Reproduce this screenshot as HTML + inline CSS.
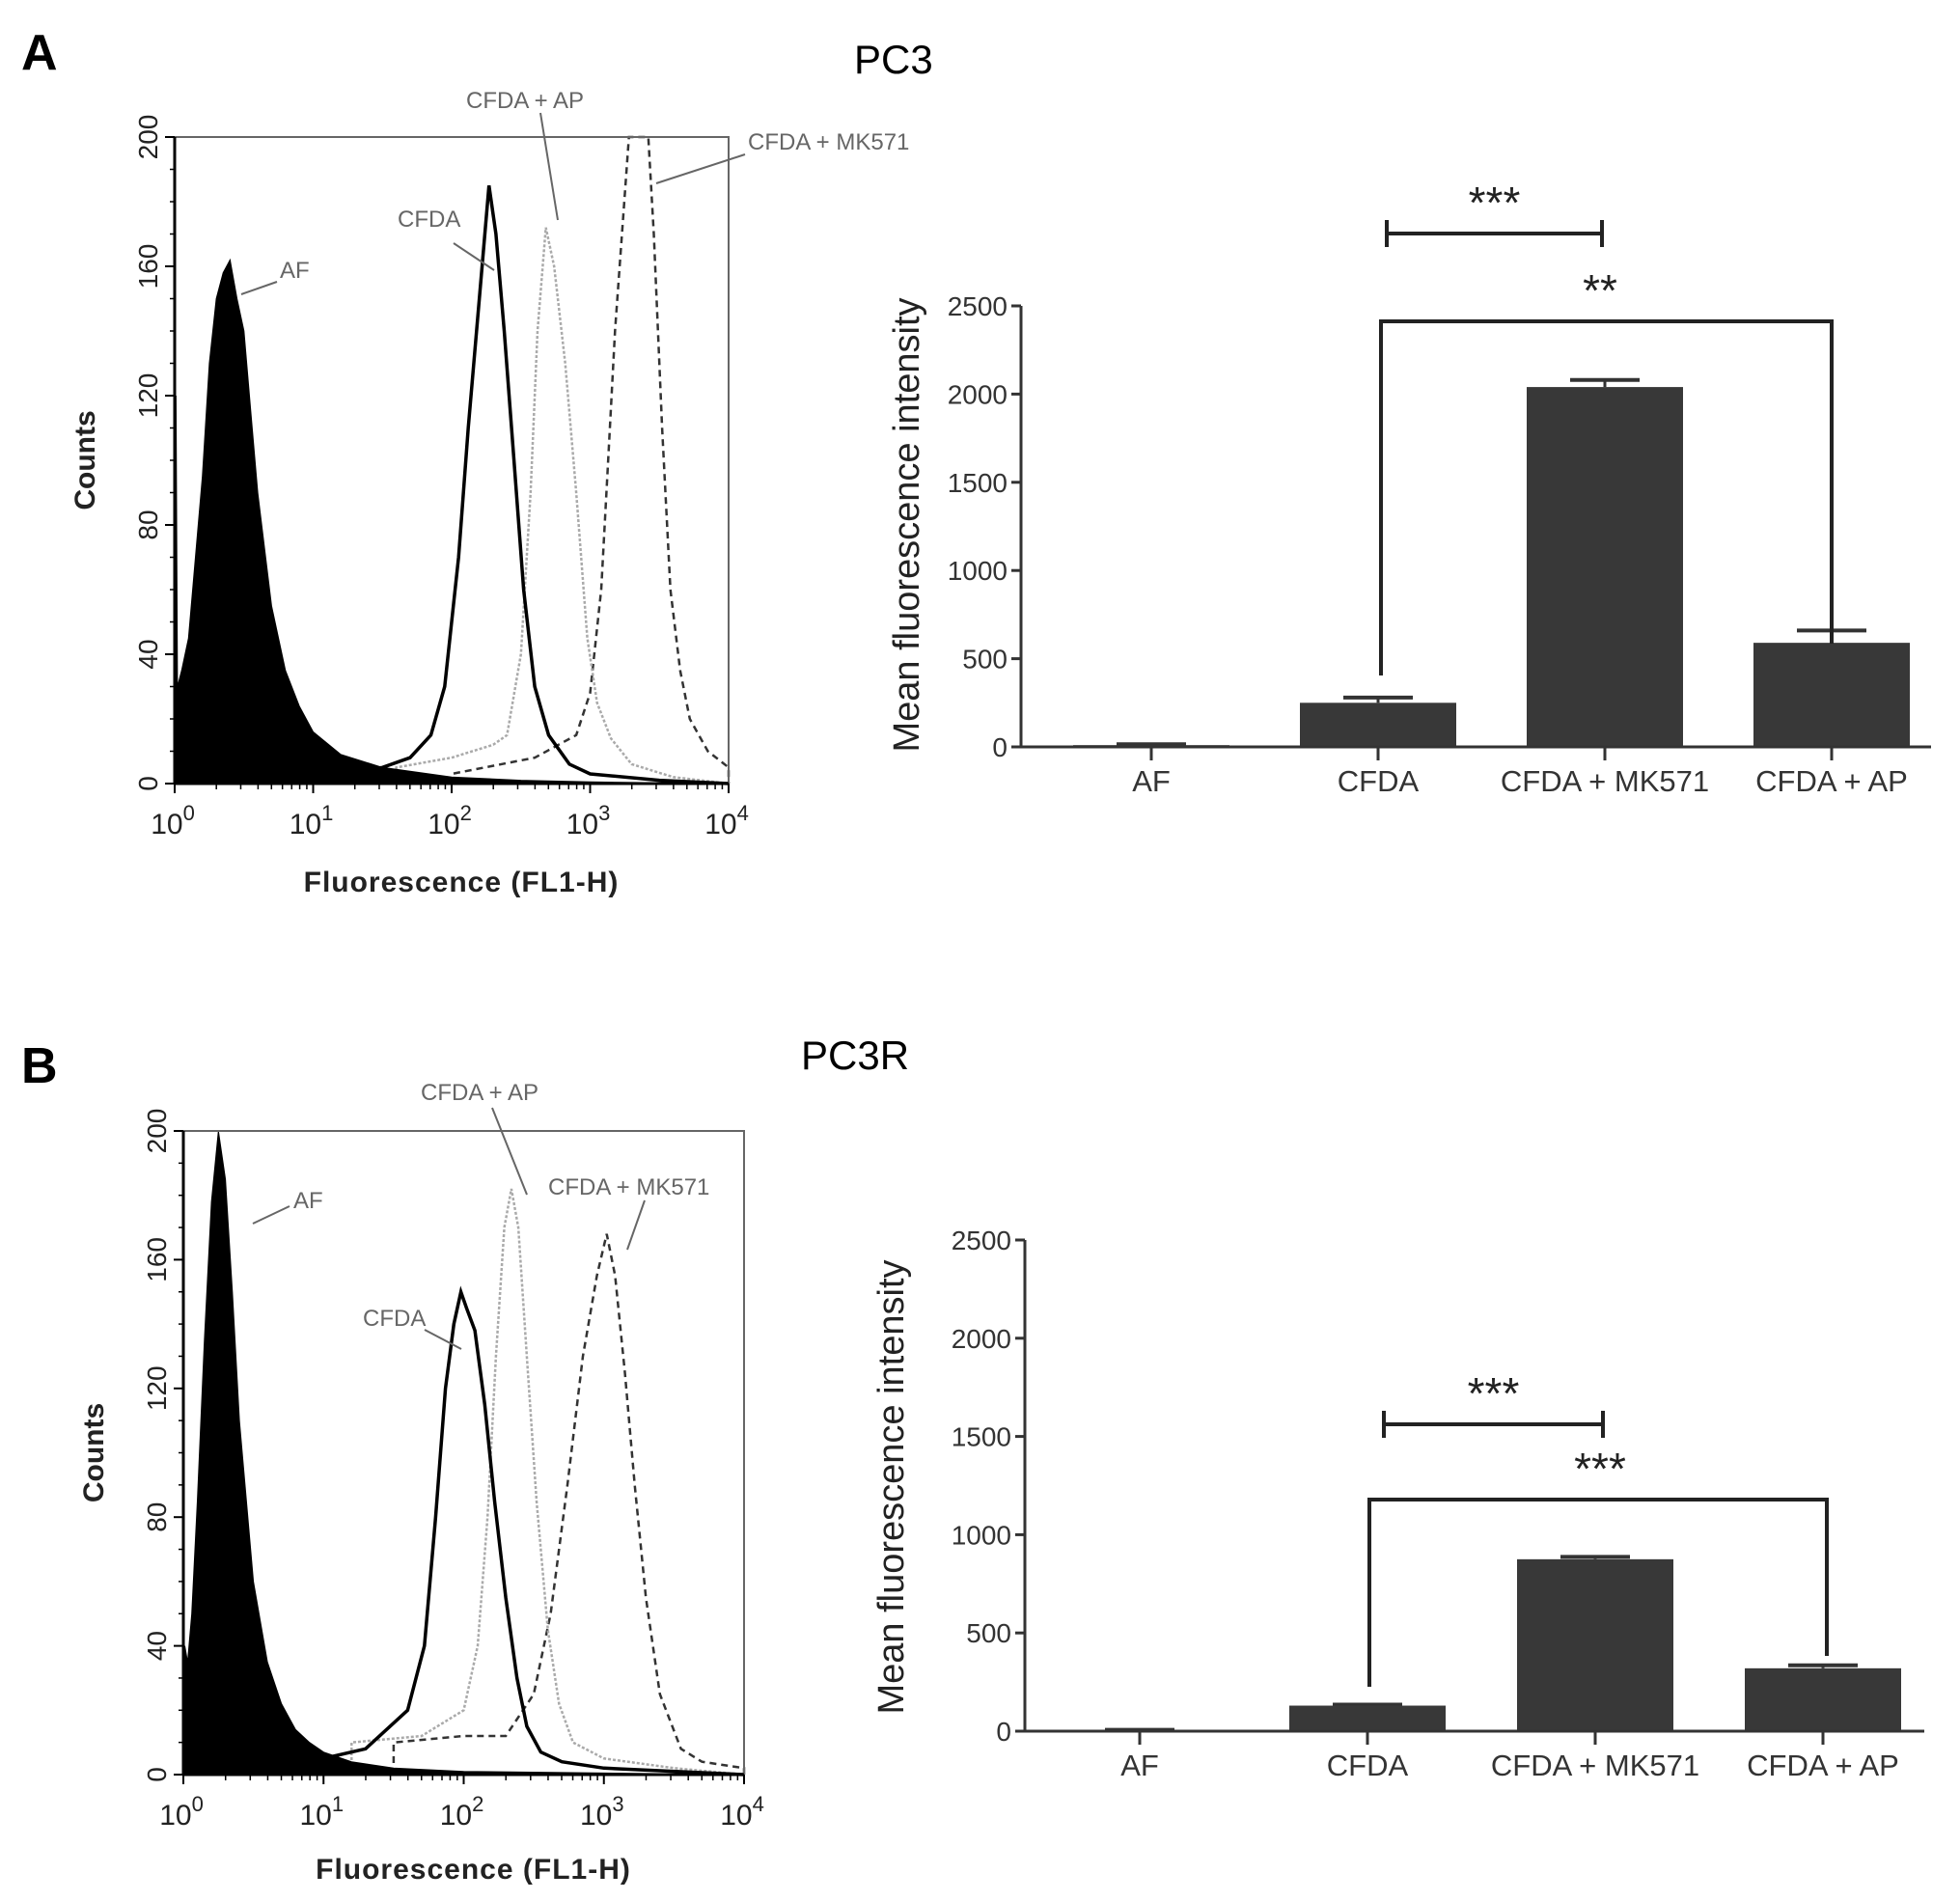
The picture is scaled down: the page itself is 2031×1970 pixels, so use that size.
<!DOCTYPE html>
<html><head><meta charset="utf-8"><style>
html,body{margin:0;padding:0;background:#fff;}
svg{display:block;font-family:"Liberation Sans",Arial,sans-serif;}
</style></head><body>
<svg id="fig" width="2031" height="1970" viewBox="0 0 2031 1970" xmlns="http://www.w3.org/2000/svg">
<text x="22" y="72" font-size="52" font-weight="bold">A</text>
<text x="885" y="76" font-size="42">PC3</text>
<text x="22" y="1122" font-size="52" font-weight="bold">B</text>
<text x="830" y="1108" font-size="42">PC3R</text>
<g id="root"></g>
</svg>
<script>
// ---------- Histogram data (x = log10 fluorescence, y = counts) ----------
const histXTicks = [0,1,2,3,4];
const histYTicks = [0,40,80,120,160,200];
const aAF_x   = [0,0.01,0.02,0.05,0.1,0.15,0.2,0.25,0.3,0.35,0.4,0.45,0.5,0.55,0.6,0.7,0.8,0.9,1.0,1.2,1.5,2.0,2.5,3.0,4.0];
const aAF_y   = [0,120,30,35,45,70,95,130,150,158,162,150,140,115,90,55,35,24,16,9,5,2,1,0.5,0];
const aCF_x   = [1.0,1.5,1.7,1.85,1.95,2.05,2.12,2.2,2.27,2.32,2.38,2.45,2.52,2.6,2.7,2.85,3.0,3.5,4.0];
const aCF_y   = [2,5,8,15,30,70,110,150,185,170,140,100,60,30,15,6,3,1,0];
const aAP_x   = [1.6,2.0,2.3,2.4,2.5,2.57,2.62,2.68,2.74,2.82,2.9,2.98,3.05,3.15,3.3,3.6,4.0];
const aAP_y   = [5,8,12,15,40,90,140,172,160,130,90,45,25,14,6,2,0];
const aMK_x   = [2.0,2.6,2.9,3.0,3.08,3.13,3.18,3.23,3.28,3.42,3.46,3.52,3.58,3.65,3.72,3.85,4.0];
const aMK_y   = [3,8,15,28,60,100,140,170,200,200,170,110,60,35,20,10,5];
const bAF_x   = [0,0.01,0.03,0.06,0.1,0.15,0.2,0.25,0.3,0.35,0.4,0.5,0.6,0.7,0.8,0.9,1.0,1.2,1.5,2.0,4.0];
const bAF_y   = [0,40,35,50,85,135,178,200,185,150,110,60,35,22,14,10,7,4,2,1,0];
const bCF_x   = [1.0,1.3,1.6,1.72,1.8,1.87,1.93,1.98,2.02,2.08,2.15,2.22,2.3,2.38,2.45,2.55,2.7,3.0,4.0];
const bCF_y   = [5,8,20,40,80,120,140,150,145,138,115,85,55,30,15,7,4,2,0];
const bAP_x   = [1.2,1.7,2.0,2.1,2.17,2.23,2.29,2.34,2.39,2.45,2.52,2.6,2.68,2.78,3.0,3.5,4.0];
const bAP_y   = [10,12,20,40,80,130,170,182,170,130,85,45,22,10,5,2,0];
const bMK_x   = [1.5,2.0,2.3,2.5,2.62,2.74,2.85,2.95,3.02,3.08,3.15,3.22,3.3,3.4,3.55,3.7,4.0];
const bMK_y   = [10,12,12,25,50,90,130,155,168,155,125,90,55,25,8,4,2];

// ---------- Bar chart data ----------
const barCategories = ["AF","CFDA","CFDA + MK571","CFDA + AP"];
const barYTicks = [0,500,1000,1500,2000,2500];
const aBarValues = [10,250,2040,590];
const aBarErrors = [5,30,40,70];
const bBarValues = [5,130,875,320];
const bBarErrors = [2,5,12,15];

const NS="http://www.w3.org/2000/svg";
const root=document.getElementById('root');
function mk(tag,attrs,parent,text){const e=document.createElementNS(NS,tag);for(const k in attrs)e.setAttribute(k,attrs[k]);if(text!==undefined)e.textContent=text;(parent||root).appendChild(e);return e;}

function histogram(cfg){
  const g=mk('g',{});
  
  
  const L=cfg.l,R=cfg.r,T=cfg.t,B=cfg.b;
  const sx=v=>L+(R-L)*v/4, sy=v=>B-(B-T)*v/200;
  const curve=(xs,ys,style,nm,fill)=>{
    let d='M'+sx(xs[0])+','+sy(0);
    for(let i=0;i<xs.length;i++){d+=' L'+sx(xs[i]).toFixed(1)+','+sy(ys[i]).toFixed(1);}
    d+=' L'+sx(xs[xs.length-1])+','+sy(0);
    if(fill) d+=' Z';
    const p=mk('path',Object.assign({d:d,fill:fill||'none'},style),g);
    
    
  };
  curve(cfg.mk[0],cfg.mk[1],{stroke:'#333','stroke-width':2.5,'stroke-dasharray':'7,5'},'cfda-mk571-histogram');
  curve(cfg.ap[0],cfg.ap[1],{stroke:'#aaa','stroke-width':2.5,'stroke-dasharray':'3,2'},'cfda-ap-histogram');
  curve(cfg.cf[0],cfg.cf[1],{stroke:'#000','stroke-width':3.5},'cfda-histogram');
  curve(cfg.af[0],cfg.af[1],{stroke:'#000','stroke-width':1},'af-histogram','#000');
  const fr=mk('rect',{x:L,y:T,width:R-L,height:B-T,fill:'none',stroke:'#666','stroke-width':2},g);
  
  
  mk('line',{x1:L,y1:T,x2:L,y2:B,stroke:'#000','stroke-width':3},g);
  mk('line',{x1:L,y1:B,x2:R,y2:B,stroke:'#000','stroke-width':3},g);
  histXTicks.forEach(t=>{
    const x=sx(t);
    mk('line',{x1:x,y1:B,x2:x,y2:B+10,stroke:'#000','stroke-width':2},g);
    if(t<4){for(let m=2;m<10;m++){const xm=sx(t+Math.log10(m));mk('line',{x1:xm,y1:B,x2:xm,y2:B+6,stroke:'#000','stroke-width':1.5},g);}}
    const tx=mk('text',{x:x-2,y:B+52,'font-size':30,'text-anchor':'middle',fill:'#222'},g);
    
    
    tx.appendChild(document.createTextNode('10'));
    mk('tspan',{dy:-14,'font-size':22},tx,String(t));
  });
  histYTicks.forEach(t=>{
    const y=sy(t);
    mk('line',{x1:L-10,y1:y,x2:L,y2:y,stroke:'#000','stroke-width':2},g);
    const tx=mk('text',{x:0,y:0,'font-size':28,'text-anchor':'middle',fill:'#222',transform:'translate('+(L-18)+','+y+') rotate(-90)'},g,String(t));
    
    
  });
  for(let v=10;v<200;v+=10){if(v%40)mk('line',{x1:L-5,y1:sy(v),x2:L,y2:sy(v),stroke:'#000','stroke-width':1.5},g);}
  const yt=mk('text',{x:0,y:0,'font-size':30,'font-weight':'bold','text-anchor':'middle',fill:'#222',transform:'translate('+cfg.ylx+','+((T+B)/2)+') rotate(-90)'},g,'Counts');
  
  
  const xt=mk('text',{x:(L+R)/2+10,y:cfg.xly,'font-size':30,'font-weight':'bold','text-anchor':'middle',fill:'#222','letter-spacing':'1'},g,'Fluorescence (FL1-H)');
  
  
  cfg.labels.forEach(lb=>{
    const t=mk('text',{x:lb[1],y:lb[2],'font-size':24,fill:'#666'},g,lb[0]);
    
    
    mk('line',{x1:lb[3],y1:lb[4],x2:lb[5],y2:lb[6],stroke:'#666','stroke-width':2},g);
  });
}

function barChart(cfg){
  const g=mk('g',{});
  
  
  const L=cfg.l,R=cfg.r,B=cfg.b,T=cfg.t;
  const sy=v=>B-(B-T)*v/2500;
  const cx=i=>cfg.c0+i*cfg.step;
  const bw=162;
  cfg.vals.forEach((v,i)=>{
    const x=cx(i);
    const e=cfg.errs[i];
    mk('line',{x1:x,y1:sy(v),x2:x,y2:sy(v+e),stroke:'#333','stroke-width':3},g);
    mk('line',{x1:x-36,y1:sy(v+e),x2:x+36,y2:sy(v+e),stroke:'#333','stroke-width':4},g);
    const r=mk('rect',{x:x-bw/2,y:sy(v),width:bw,height:B-sy(v),fill:'#383838'},g);
    
    
    mk('line',{x1:x,y1:B,x2:x,y2:B+14,stroke:'#333','stroke-width':3},g);
    const t=mk('text',{x:x,y:B+46,'font-size':31,'text-anchor':'middle',fill:'#333'},g,barCategories[i]);
    
    
  });
  mk('line',{x1:L,y1:T,x2:L,y2:B,stroke:'#333','stroke-width':3},g);
  mk('line',{x1:L,y1:B,x2:R,y2:B,stroke:'#333','stroke-width':3},g);
  barYTicks.forEach(t=>{
    const y=sy(t);
    mk('line',{x1:L-10,y1:y,x2:L,y2:y,stroke:'#333','stroke-width':3},g);
    const tx=mk('text',{x:L-14,y:y+10,'font-size':28,'text-anchor':'end',fill:'#333'},g,String(t));
    
    
  });
  const yt=mk('text',{x:0,y:0,'font-size':38,'text-anchor':'middle',fill:'#222',transform:'translate('+cfg.ylx+','+cfg.yly+') rotate(-90)'},g,'Mean fluorescence intensity');
  
  
  const s=cfg.sig;
  mk('path',{d:'M'+s.a1+','+(s.ay-14)+' L'+s.a1+','+(s.ay+14)+' M'+s.a1+','+s.ay+' L'+s.a2+','+s.ay+' M'+s.a2+','+(s.ay-14)+' L'+s.a2+','+(s.ay+14),stroke:'#222','stroke-width':4,fill:'none'},g);
  const t1=mk('text',{x:(s.a1+s.a2)/2,y:s.ay-16,'font-size':46,'text-anchor':'middle',fill:'#222'},g,'***');
  
  
  mk('path',{d:'M'+s.b1+','+s.b1y+' L'+s.b1+','+s.by+' L'+s.b2+','+s.by+' L'+s.b2+','+s.b2y,stroke:'#222','stroke-width':4,fill:'none'},g);
  const t2=mk('text',{x:1658,y:s.by-16,'font-size':46,'text-anchor':'middle',fill:'#222'},g,s.bt);
  
  
}

histogram({name:'histogram-pc3',l:181,r:755,t:142,b:812,ylx:98,xly:924,
  af:[aAF_x,aAF_y],cf:[aCF_x,aCF_y],ap:[aAP_x,aAP_y],mk:[aMK_x,aMK_y],
  labels:[['AF',290,288,287,292,250,305],['CFDA',412,235,470,252,512,280],['CFDA + AP',483,112,560,117,578,228],['CFDA + MK571',775,155,772,160,680,190]]});
histogram({name:'histogram-pc3r',l:190,r:771,t:1172,b:1839,ylx:107,xly:1947,
  af:[bAF_x,bAF_y],cf:[bCF_x,bCF_y],ap:[bAP_x,bAP_y],mk:[bMK_x,bMK_y],
  labels:[['AF',304,1252,300,1250,262,1268],['CFDA',376,1374,440,1378,478,1398],['CFDA + AP',436,1140,510,1148,546,1238],['CFDA + MK571',568,1238,668,1244,650,1295]]});
barChart({name:'bar-chart-pc3',l:1058,r:2001,t:317,b:774,c0:1193,step:235,vals:aBarValues,errs:aBarErrors,ylx:952,yly:544,
  sig:{a1:1437,a2:1660,ay:242,b1:1431,b1y:700,b2:1898,b2y:667,by:333,bt:'**'}});
barChart({name:'bar-chart-pc3r',l:1062,r:1994,t:1285,b:1794,c0:1181,step:236,vals:bBarValues,errs:bBarErrors,ylx:936,yly:1541,
  sig:{a1:1434,a2:1661,ay:1476,b1:1419,b1y:1748,b2:1893,b2y:1716,by:1554,bt:'***'}});
</script>
</body></html>
